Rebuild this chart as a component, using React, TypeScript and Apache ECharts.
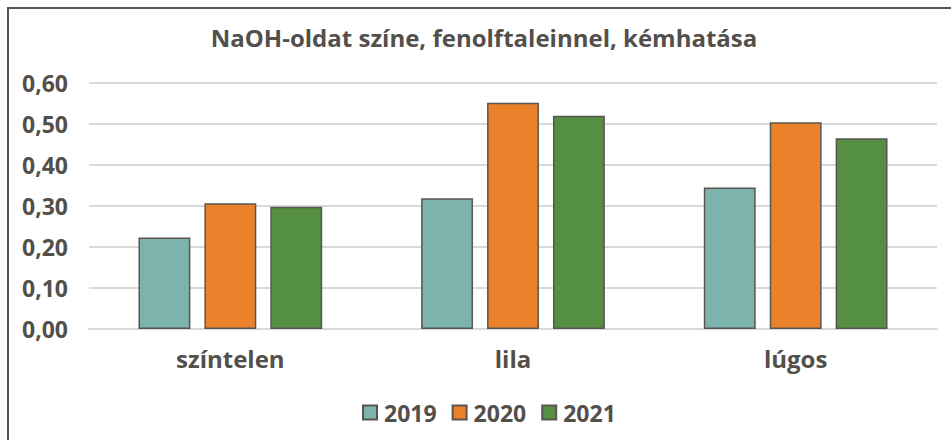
import React, { useEffect, useRef } from "react";
import * as echarts from "echarts";

const categories = ["színtelen", "lila", "lúgos"];
const seriesNames = ["2019", "2020", "2021"];
const values2019 = [0.223, 0.319, 0.345];
const values2020 = [0.307, 0.552, 0.504];
const values2021 = [0.298, 0.52, 0.465];
const colors = ["#7cb3ac", "#eb822b", "#558f41"];
const titleText = "NaOH-oldat színe, fenolftaleinnel, kémhatása";

const FONT = "'Open Sans', sans-serif";
const TEXT = "#534f4b";

export default function App() {
  const ref = useRef<HTMLDivElement>(null);
  useEffect(() => {
    if (!ref.current) return;
    const chart = echarts.init(ref.current, null, { renderer: "svg" });
    const data = [values2019, values2020, values2021];
    chart.setOption({
      animation: false,
      backgroundColor: "#ffffff",
      textStyle: { fontFamily: FONT },
      graphic: [
        {
          type: "rect",
          shape: { x: 8, y: 8, width: 1000, height: 500 },
          style: { fill: "none", stroke: "#5a5550", lineWidth: 2 },
          silent: true,
        },
        {
          type: "text",
          x: 484,
          y: 37,
          style: {
            text: titleText,
            fontFamily: FONT,
            fontSize: 24,
            fontWeight: "bold",
            fill: TEXT,
            textAlign: "center",
            textVerticalAlign: "middle",
          },
        },
      ],
      legend: {
        left: 357,
        top: 396,
        itemWidth: 14,
        itemHeight: 14,
        itemGap: 15,
        icon: "rect",
        textStyle: { fontFamily: FONT, fontSize: 23, fontWeight: "bold", color: TEXT, padding: [0, 0, 0, 2] },
        data: seriesNames.map((n, i) => ({
          name: n,
          itemStyle: { color: colors[i], borderColor: "#5a5550", borderWidth: 2 },
        })),
      },
      grid: { left: 89, right: 14, top: 83, bottom: 111, containLabel: false },
      xAxis: {
        type: "category",
        data: categories,
        axisLine: { lineStyle: { color: "#d9d9d9", width: 2 } },
        axisTick: { show: false },
        axisLabel: { fontFamily: FONT, fontSize: 24, fontWeight: "bold", color: TEXT, margin: 17 },
      },
      yAxis: {
        type: "value",
        min: 0,
        max: 0.6,
        interval: 0.1,
        axisLine: { show: false },
        axisTick: { show: false },
        splitLine: { lineStyle: { color: "#d9d9d9", width: 2 } },
        axisLabel: {
          fontFamily: FONT,
          fontSize: 23,
          fontWeight: "bold",
          color: TEXT,
          margin: 21,
          formatter: (v: number) => v.toFixed(2).replace(".", ","),
        },
      },
      series: seriesNames.map((n, i) => ({
        name: n,
        type: "bar",
        data: data[i],
        barGap: "27%",
        barCategoryGap: "35%",
        itemStyle: { color: colors[i], borderColor: "#5a5550", borderWidth: 1.5 },
      })),
    });
    return () => chart.dispose();
  }, []);
  return (
    <div
      ref={ref}
      style={{ position: "fixed", left: 0, top: 0, width: 951, height: 440 }}
    />
  );
}
